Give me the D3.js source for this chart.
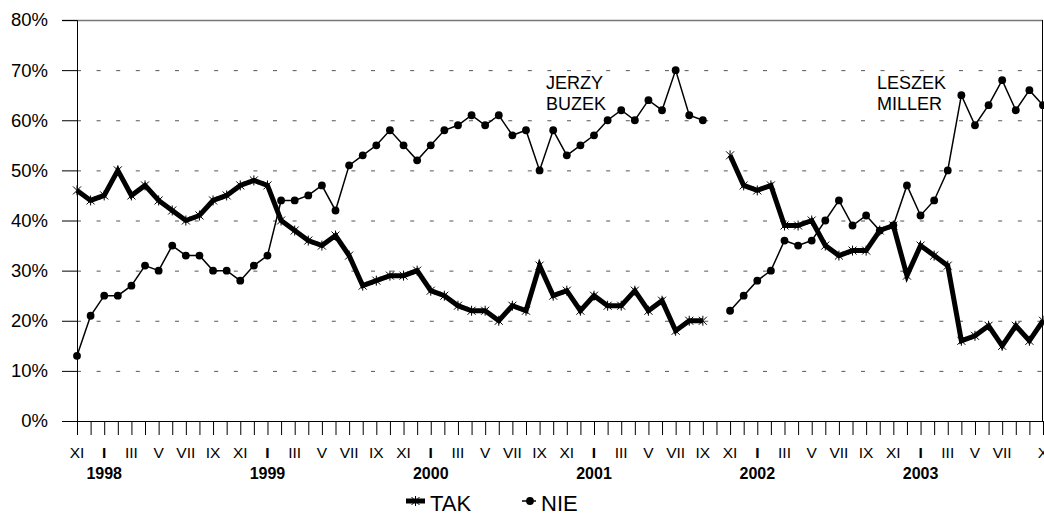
<!DOCTYPE html>
<html>
<head>
<meta charset="utf-8">
<script src="https://cdn.jsdelivr.net/npm/d3@7"></script>
<style>
  html, body { margin: 0; padding: 0; background: #fff; }
  svg { display: block; font-family: "Liberation Sans", Arial, sans-serif; }
</style>
</head>
<body>
<svg id="chart" width="1044" height="516"></svg>
<script>
// Month labels (Roman numerals), Nov 1997 .. Oct 2003
const romans = ["I","II","III","IV","V","VI","VII","VIII","IX","X","XI","XII"];
const categories = [];
for (let yr = 1997, m = 10; categories.length < 72; ) {
  categories.push({ month: romans[m], year: yr });
  m++; if (m === 12) { m = 0; yr++; }
}
// Which month labels are printed on the axis
const shownMonthLabels = ["XI 1997","I 1998","III 1998","V 1998","VII 1998","IX 1998","XI 1998",
  "I 1999","III 1999","V 1999","VII 1999","IX 1999","XI 1999",
  "I 2000","III 2000","V 2000","VII 2000","IX 2000","XI 2000",
  "I 2001","III 2001","V 2001","VII 2001","IX 2001","XI 2001",
  "I 2002","III 2002","V 2002","VII 2002","IX 2002","XI 2002",
  "I 2003","III 2003","V 2003","VII 2003","X 2003"];
const yearLabels = ["1998","1999","2000","2001","2002","2003"];
const yTicks = [0,10,20,30,40,50,60,70,80];

const tak = [46,44,45,50,45,47,44,42,40,41,44,45,47,48,47,40,38,36,35,37,
             33,27,28,29,29,30,26,25,23,22,22,20,23,22,31,25,26,22,25,23,
             23,26,22,24,18,20,20,null,53,47,46,47,39,39,40,35,33,34,34,38,
             39,29,35,33,31,16,17,19,15,19,16,20];
const nie = [13,21,25,25,27,31,30,35,33,33,30,30,28,31,33,44,44,45,47,42,
             51,53,55,58,55,52,55,58,59,61,59,61,57,58,50,58,53,55,57,60,
             62,60,64,62,70,61,60,null,22,25,28,30,36,35,36,40,44,39,41,38,
             39,47,41,44,50,65,59,63,68,62,66,63];

const annotations = [
  { lines: ["JERZY","BUZEK"] },
  { lines: ["LESZEK","MILLER"] }
];
const seriesNames = ["TAK","NIE"];

const svg = d3.select("#chart");
const mLeft = 77, mRight = 1043, mTop = 20, mBottom = 421;
const catKeys = categories.map(c => c.month + " " + c.year);

const x = d3.scalePoint().domain(catKeys).range([mLeft, mRight]).padding(0);
const y = d3.scaleLinear().domain([0, 80]).range([mBottom, mTop]);

// gridlines
svg.append("g").selectAll("line")
  .data(yTicks.filter(t => t > 0 && t < 80))
  .join("line")
  .attr("x1", mLeft).attr("x2", mRight)
  .attr("y1", d => y(d) + 0.5).attr("y2", d => y(d) + 0.5)
  .attr("stroke", "#555").attr("stroke-width", 1)
  .attr("stroke-dasharray", "4,15.6");

// top border (80%)
svg.append("line").attr("x1", mLeft - 15).attr("x2", mRight)
  .attr("y1", y(80) + 0.5).attr("y2", y(80) + 0.5).attr("stroke", "#777").attr("stroke-width", 1.3);
// right border
svg.append("line").attr("x1", mRight - 0.5).attr("x2", mRight - 0.5)
  .attr("y1", y(80)).attr("y2", y(0)).attr("stroke", "#000").attr("stroke-width", 1);

// Y axis
const yAxis = d3.axisLeft(y).tickValues(yTicks).tickSize(15).tickPadding(14)
  .tickFormat(d => d + "%");
const gy = svg.append("g").attr("transform", `translate(${mLeft},0)`).call(yAxis);
gy.select(".domain").attr("stroke", "#000");
gy.selectAll(".tick line").attr("stroke", "#000");
gy.selectAll("text").attr("font-size", 18.5).attr("font-family", "Liberation Sans, Arial, sans-serif")
  .attr("fill", "#000");

// X axis
const xAxis = d3.axisBottom(x).tickSize(14).tickFormat("");
const gx = svg.append("g").attr("transform", `translate(0,${mBottom})`).call(xAxis);
gx.select(".domain").attr("stroke", "#000").attr("d", `M${mLeft - 15},0.5H${mRight}`);
gx.selectAll(".tick line").attr("stroke", "#000");

// month labels
svg.append("g").selectAll("text")
  .data(shownMonthLabels)
  .join("text")
  .attr("x", d => x(d))
  .attr("y", 457.5)
  .attr("text-anchor", "middle")
  .attr("font-size", 15.5)
  .attr("font-weight", d => d.startsWith("I ") ? "bold" : "normal")
  .text(d => d.split(" ")[0]);

// year labels
svg.append("g").selectAll("text")
  .data(yearLabels)
  .join("text")
  .attr("x", d => x("I " + d))
  .attr("y", 478.5)
  .attr("text-anchor", "middle")
  .attr("font-size", 16)
  .attr("font-weight", "bold")
  .text(d => d);

// lines
const line = d3.line()
  .defined(d => d.v !== null)
  .x(d => x(d.k)).y(d => y(d.v));
const takData = catKeys.map((k, i) => ({ k, v: tak[i] }));
const nieData = catKeys.map((k, i) => ({ k, v: nie[i] }));

svg.append("path").datum(nieData).attr("d", line)
  .attr("fill", "none").attr("stroke", "#000").attr("stroke-width", 1.5)
  .attr("stroke-linejoin", "miter");
svg.append("g").selectAll("circle")
  .data(nieData.filter(d => d.v !== null))
  .join("circle")
  .attr("cx", d => x(d.k)).attr("cy", d => y(d.v)).attr("r", 3.9).attr("fill", "#000");

svg.append("path").datum(takData).attr("d", line)
  .attr("fill", "none").attr("stroke", "#000").attr("stroke-width", 5)
  .attr("stroke-linejoin", "miter");
const star = "M-4,-4L4,4M-4,4L4,-4M0,-5L0,5";
svg.append("g").selectAll("path")
  .data(takData.filter(d => d.v !== null))
  .join("path")
  .attr("transform", d => `translate(${x(d.k)},${y(d.v)})`)
  .attr("d", star).attr("stroke", "#000").attr("stroke-width", 1).attr("fill", "none");

// annotations
const annX = [546, 877];
annotations.forEach((a, j) => {
  const t = svg.append("text").attr("font-size", 18);
  a.lines.forEach((ln, i) => {
    t.append("tspan").attr("x", annX[j]).attr("y", 88.5 + i * 21.5).text(ln);
  });
});

// legend
const lg = svg.append("g");
lg.append("line").attr("x1", 406).attr("x2", 425).attr("y1", 501).attr("y2", 501)
  .attr("stroke", "#000").attr("stroke-width", 5);
lg.append("path").attr("transform", "translate(415.5,501)").attr("d", star)
  .attr("stroke", "#000").attr("stroke-width", 1).attr("fill", "none");
lg.append("text").attr("x", 430).attr("y", 511).attr("font-size", 22).text(seriesNames[0]);
lg.append("line").attr("x1", 522).attr("x2", 536).attr("y1", 501).attr("y2", 501)
  .attr("stroke", "#000").attr("stroke-width", 1.5);
lg.append("circle").attr("cx", 530).attr("cy", 501).attr("r", 3.9).attr("fill", "#000");
lg.append("text").attr("x", 541).attr("y", 511).attr("font-size", 22).text(seriesNames[1]);
</script>
</body>
</html>
